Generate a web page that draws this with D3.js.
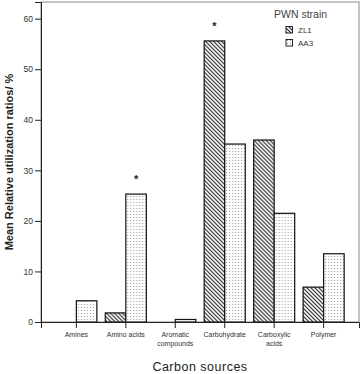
<!DOCTYPE html>
<html>
<head>
<meta charset="utf-8">
<script src="https://cdn.jsdelivr.net/npm/d3@7"></script>
<style>
body { margin: 0; background: #fff; }
svg { display: block; font-family: "Liberation Sans", Arial, sans-serif; }
</style>
</head>
<body>
<svg id="chart" width="363" height="374"></svg>
<script>
// datos
const categories = ["Amines", "Amino acids", "Aromatic compounds", "Carbohydrate", "Carboxylic acids", "Polymer"];
const categoryLines = [["Amines"], ["Amino acids"], ["Aromatic", "compounds"], ["Carbohydrate"], ["Carboxylic", "acids"], ["Polymer"]];
const strains = ["ZL1", "AA3"];
const zl1Values = [0, 1.8, 0, 55.6, 36.0, 6.9];
const aa3Values = [4.2, 25.3, 0.5, 35.2, 21.5, 13.5];
const yTicks = [0, 10, 20, 30, 40, 50, 60];
const significant = [["Amino acids", "AA3"], ["Carbohydrate", "ZL1"]];

const width = 363, height = 374;
const margin = { top: 2, right: 4, bottom: 52, left: 41 };

const svg = d3.select("#chart");

// patrones de relleno
const defs = svg.append("defs");
const hatch = defs.append("pattern")
    .attr("id", "hatch")
    .attr("patternUnits", "userSpaceOnUse")
    .attr("width", 4).attr("height", 4);
hatch.append("rect").attr("width", 4).attr("height", 4).attr("fill", "#fff");
hatch.append("path")
    .attr("d", "M-1,-1L5,5M-1,3L1,5M3,-1L5,1")
    .attr("stroke", "#222").attr("stroke-width", 1.1);

const dots = defs.append("pattern")
    .attr("id", "dots")
    .attr("patternUnits", "userSpaceOnUse")
    .attr("width", 3).attr("height", 3);
dots.append("rect").attr("width", 3).attr("height", 3).attr("fill", "#fff");
dots.append("rect").attr("x", 1).attr("y", 1).attr("width", 1).attr("height", 1).attr("fill", "#999");

const fills = { ZL1: "url(#hatch)", AA3: "url(#dots)" };

const data = categories.map((c, i) => ({ cat: c, ZL1: zl1Values[i], AA3: aa3Values[i] }));

// escalas
const x = d3.scaleBand()
    .domain(categories)
    .range([margin.left, width - margin.right])
    .paddingInner(0.17)
    .paddingOuter(0.3);

const xs = d3.scaleBand()
    .domain(strains)
    .range([0, x.bandwidth()]);

const y = d3.scaleLinear()
    .domain([0, 63.3])
    .range([height - margin.bottom, margin.top]);

// marco
svg.append("rect")
    .attr("x", margin.left).attr("y", margin.top)
    .attr("width", width - margin.right - margin.left)
    .attr("height", height - margin.bottom - margin.top)
    .attr("fill", "none").attr("stroke", "#888").attr("stroke-width", 1);

// barras
const groups = svg.selectAll("g.cat")
    .data(data)
    .join("g")
    .attr("class", "cat")
    .attr("transform", d => `translate(${x(d.cat)},0)`);

groups.selectAll("rect")
    .data(d => strains.map(s => ({ cat: d.cat, strain: s, value: d[s] })))
    .join("rect")
    .attr("x", d => xs(d.strain))
    .attr("y", d => y(d.value))
    .attr("width", xs.bandwidth())
    .attr("height", d => y(0) - y(d.value))
    .attr("fill", d => fills[d.strain])
    .attr("stroke", "#111")
    .attr("stroke-width", 1.2);

// asteriscos
significant.forEach(([cat, strain]) => {
    const v = data.find(d => d.cat === cat)[strain];
    svg.append("text")
        .attr("x", x(cat) + xs(strain) + xs.bandwidth() / 2)
        .attr("y", y(v) - 11)
        .attr("text-anchor", "middle")
        .style("font-size", "11px")
        .style("font-weight", "bold")
        .attr("fill", "#222")
        .text("*");
});

// Eje Y
const yAxis = svg.append("g")
    .attr("transform", `translate(${margin.left},0)`)
    .call(d3.axisLeft(y).tickValues(yTicks).tickSize(6).tickPadding(2));
yAxis.select(".domain").attr("stroke", "#222");
yAxis.selectAll(".tick line").attr("stroke", "#222");
yAxis.selectAll(".tick text").style("font-size", "8.5px").attr("fill", "#333")
    .style("font-family", "'Liberation Sans', Arial, sans-serif");

// Eje X
const xAxis = svg.append("g")
    .attr("transform", `translate(0,${height - margin.bottom})`)
    .call(d3.axisBottom(x).tickSize(6).tickFormat(""));
xAxis.select(".domain").attr("stroke", "#222");
xAxis.selectAll(".tick line").attr("stroke", "#222");

categories.forEach((c, i) => {
    const t = svg.append("text")
        .attr("x", x(c) + x.bandwidth() / 2)
        .attr("y", height - margin.bottom + 15)
        .attr("text-anchor", "middle")
        .style("font-size", "7px")
        .attr("fill", "#333");
    categoryLines[i].forEach((line, j) => {
        t.append("tspan")
            .attr("x", x(c) + x.bandwidth() / 2)
            .attr("dy", j === 0 ? 0 : 9)
            .text(line);
    });
});

// titulos
svg.append("text")
    .attr("x", (margin.left + width - margin.right) / 2)
    .attr("y", 371)
    .attr("text-anchor", "middle")
    .style("font-size", "12.5px")
    .style("letter-spacing", "0.5px")
    .attr("fill", "#222")
    .text("Carbon sources");

svg.append("text")
    .attr("transform", "translate(13,162) rotate(-90)")
    .attr("text-anchor", "middle")
    .style("font-size", "11px")
    .style("font-weight", "bold")
    .attr("fill", "#222")
    .text("Mean Relative utilization ratios/ %");

// Leyenda
const legend = svg.append("g").attr("transform", "translate(274,0)");
legend.append("text")
    .attr("x", 0).attr("y", 18)
    .style("font-size", "10.5px")
    .attr("fill", "#444")
    .text("PWN strain");

strains.forEach((s, i) => {
    legend.append("rect")
        .attr("x", 12).attr("y", 26.5 + i * 13)
        .attr("width", 6.5).attr("height", 6.5)
        .attr("fill", fills[s])
        .attr("stroke", "#222").attr("stroke-width", 1);
    legend.append("text")
        .attr("x", 24).attr("y", 33 + i * 13)
        .style("font-size", "8px")
        .attr("fill", "#333")
        .text(s);
});
</script>
</body>
</html>
